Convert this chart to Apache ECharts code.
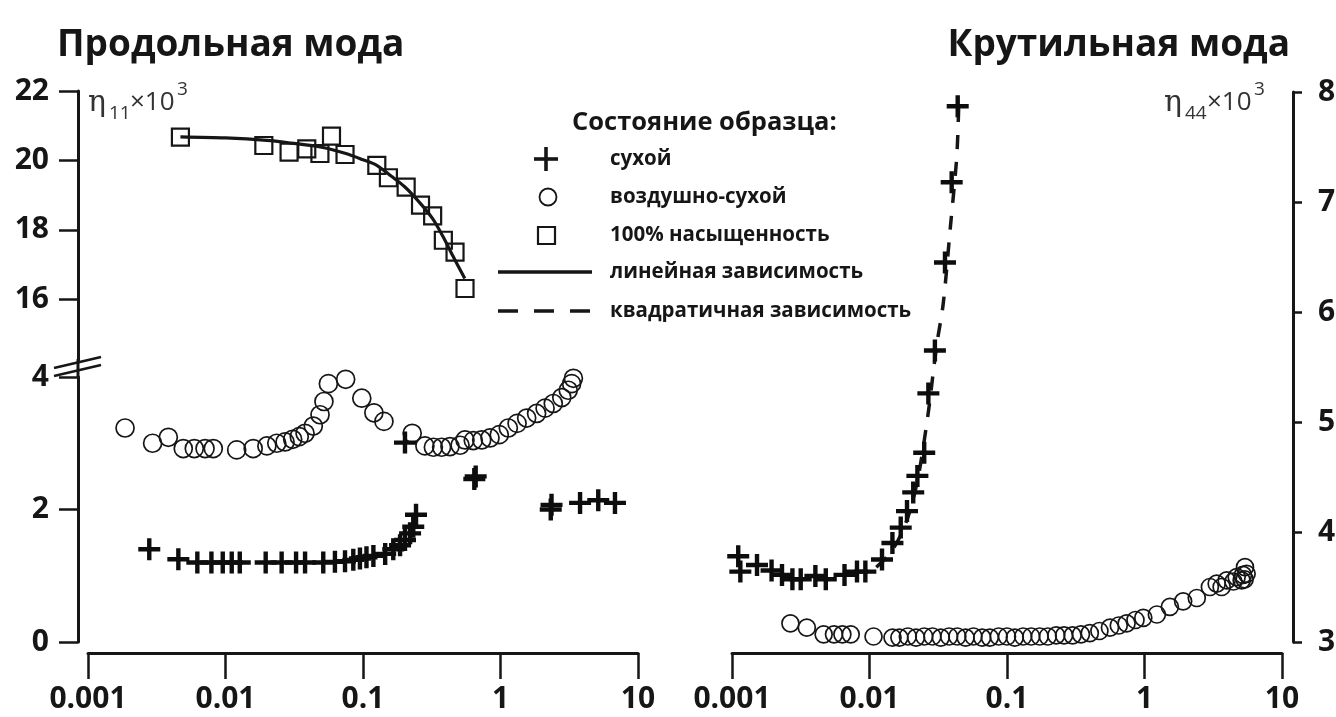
<!DOCTYPE html>
<html>
<head>
<meta charset="utf-8">
<script src="https://cdn.jsdelivr.net/npm/echarts@6/dist/echarts.min.js"></script>
<style>
html,body{margin:0;padding:0;background:#fff;}
#chart{width:1336px;height:717px;}
</style>
</head>
<body>
<div id="chart"></div>
<script>
// ---------- data ----------
const xTickValues = [0.001, 0.01, 0.1, 1, 10];
const xTickLabels = ['0.001', '0.01', '0.1', '1', '10'];
const longUpperTicks = [16, 18, 20, 22];
const longLowerTicks = [0, 2, 4];
const torsTicks = [3, 4, 5, 6, 7, 8];

const titles = ['Продольная мода', 'Крутильная мода'];
const legendTitle = 'Состояние образца:';
const seriesNames = ['сухой', 'воздушно-сухой', '100% насыщенность', 'линейная зависимость', 'квадратичная зависимость'];

// Longitudinal mode, 100% saturation (squares)
const longSatX = [0.0047, 0.019, 0.029, 0.039, 0.0486, 0.059, 0.074, 0.126, 0.153, 0.206, 0.262, 0.321, 0.384, 0.467, 0.552];
const longSatY = [20.67, 20.43, 20.24, 20.33, 20.20, 20.70, 20.17, 19.86, 19.50, 19.23, 18.71, 18.40, 17.70, 17.36, 16.31];
// Longitudinal mode, linear dependence (solid line)
const longLinX = [0.0047, 0.01, 0.02, 0.03, 0.05, 0.075, 0.1, 0.126, 0.16, 0.2, 0.25, 0.32, 0.38, 0.45, 0.55];
const longLinY = [20.68, 20.65, 20.58, 20.50, 20.38, 20.20, 20.02, 19.86, 19.55, 19.25, 18.85, 18.33, 17.82, 17.25, 16.60];
// Longitudinal mode, air-dry (circles)
const longAirX = [0.00186, 0.00295, 0.00384, 0.00493, 0.00593, 0.0071, 0.00815, 0.01206, 0.0159, 0.02, 0.0236, 0.0271, 0.0308, 0.0344, 0.0379, 0.0435, 0.0487, 0.052, 0.056, 0.0748, 0.098, 0.120, 0.142, 0.228, 0.282, 0.325, 0.373, 0.429, 0.508, 0.552, 0.634, 0.73, 0.839, 0.98, 1.14, 1.32, 1.55, 1.83, 2.11, 2.42, 2.79, 3.11, 3.29, 3.39];
const longAirY = [3.23, 3.00, 3.09, 2.92, 2.92, 2.92, 2.92, 2.90, 2.92, 2.96, 3.00, 3.02, 3.06, 3.10, 3.15, 3.26, 3.43, 3.63, 3.90, 3.965, 3.68, 3.46, 3.33, 3.15, 2.96, 2.94, 2.94, 2.95, 2.97, 3.05, 3.04, 3.05, 3.08, 3.13, 3.23, 3.30, 3.38, 3.45, 3.53, 3.60, 3.69, 3.80, 3.90, 3.98];
// Longitudinal mode, dry (crosses)
const longDryX = [0.00279, 0.00454, 0.00624, 0.0079, 0.00955, 0.0111, 0.0127, 0.0196, 0.0256, 0.0326, 0.0379, 0.0514, 0.0625, 0.074, 0.085, 0.095, 0.106, 0.119, 0.145, 0.166, 0.186, 0.202, 0.22, 0.232, 0.243, 0.202, 0.645, 0.66, 2.32, 2.35, 3.79, 5.14, 6.8];
const longDryY = [1.40, 1.25, 1.20, 1.20, 1.20, 1.20, 1.20, 1.20, 1.20, 1.20, 1.20, 1.20, 1.21, 1.22, 1.24, 1.26, 1.28, 1.30, 1.33, 1.40, 1.46, 1.54, 1.64, 1.74, 1.92, 3.01, 2.46, 2.50, 2.00, 2.07, 2.10, 2.14, 2.10];

// Torsional mode, dry (crosses)
const torsDryX = [0.00111, 0.00115, 0.00152, 0.00194, 0.00231, 0.00275, 0.00316, 0.00404, 0.00481, 0.00658, 0.00811, 0.00933, 0.01233, 0.01468, 0.01687, 0.01874, 0.0208, 0.0223, 0.025, 0.0268, 0.0299, 0.0354, 0.0396, 0.0438];
const torsDryY = [3.78, 3.64, 3.70, 3.65, 3.61, 3.57, 3.57, 3.60, 3.57, 3.61, 3.64, 3.64, 3.75, 3.90, 4.04, 4.19, 4.36, 4.51, 4.72, 5.26, 5.65, 6.45, 7.18, 7.87];
// Torsional mode, quadratic dependence (dashed line)
const torsQuadX = [0.0112, 0.014, 0.017, 0.02, 0.023, 0.0268, 0.029, 0.0309, 0.0344, 0.0386, 0.0431, 0.0445];
const torsQuadY = [3.68, 3.80, 3.98, 4.22, 4.55, 5.09, 5.44, 5.71, 6.08, 6.75, 7.41, 7.85];
// Torsional mode, air-dry (circles)
const torsAirX = [0.00266, 0.0035, 0.00464, 0.00552, 0.00635, 0.0073, 0.0107, 0.0147, 0.0165, 0.019, 0.0218, 0.025, 0.0287, 0.033, 0.0379, 0.0435, 0.05, 0.057, 0.066, 0.075, 0.087, 0.1, 0.114, 0.131, 0.15, 0.173, 0.198, 0.228, 0.26, 0.3, 0.345, 0.4, 0.47, 0.561, 0.65, 0.741, 0.86, 0.98, 1.23, 1.53, 1.91, 2.4, 2.99, 3.35, 3.64, 3.96, 4.43, 4.68, 5.09, 5.2, 5.35, 5.38, 5.53];
const torsAirY = [3.17, 3.13, 3.07, 3.07, 3.07, 3.07, 3.05, 3.04, 3.04, 3.05, 3.04, 3.05, 3.05, 3.04, 3.05, 3.05, 3.04, 3.05, 3.04, 3.04, 3.05, 3.05, 3.04, 3.05, 3.05, 3.05, 3.05, 3.06, 3.06, 3.06, 3.07, 3.08, 3.10, 3.13, 3.15, 3.17, 3.20, 3.22, 3.25, 3.32, 3.37, 3.40, 3.50, 3.53, 3.50, 3.56, 3.55, 3.59, 3.56, 3.61, 3.57, 3.68, 3.62];

// ---------- helpers ----------
const zip = (xs, ys) => xs.map((x, i) => [x, ys[i]]);
const INK = '#161616';
const FONT = '"Open Sans", "DejaVu Sans", sans-serif';
const crossPath = 'path://M12,0L12,24M0,12L24,12';

function xLabel(v) {
  const i = xTickValues.findIndex(t => Math.abs(Math.log10(t) - Math.log10(v)) < 1e-6);
  return i >= 0 ? xTickLabels[i] : '';
}

const axisLineStyle = { lineStyle: { color: INK, width: 3 } };
const tickLabel = { color: INK, fontFamily: FONT, fontWeight: 'bold', fontSize: 30 };

function logX(gridIndex, visible) {
  return {
    type: 'log', logBase: 10, gridIndex, min: 0.001, max: 10,
    show: visible, position: 'bottom', offset: 11,
    axisLine: { show: true, onZero: false, ...axisLineStyle },
    axisTick: { show: true, inside: false, length: 26, lineStyle: { color: INK, width: 2.5 } },
    axisLabel: { ...tickLabel, margin: 31, formatter: xLabel },
    splitLine: { show: false }, minorTick: { show: false }
  };
}

const chart = echarts.init(document.getElementById('chart'), null, { renderer: 'canvas' });

const gridBase = { containLabel: false, outerBoundsMode: 'none', show: false };

function txt(text, x, y, font, extra) {
  return { type: 'text', style: Object.assign({ text, x, y, textVerticalAlign: 'middle', font, fill: INK }, extra || {}) };
}
function seg(x1, y1, x2, y2, w, dash) {
  const st = { stroke: INK, lineWidth: w };
  if (dash) st.lineDash = dash;
  return { type: 'line', shape: { x1, y1, x2, y2 }, style: st };
}

const crossStyle = { color: 'rgba(0,0,0,0)', borderColor: '#0d0d0d', borderWidth: 4.4, opacity: 1 };
const hollowStyle = { color: 'rgba(255,255,255,0)', borderColor: INK, borderWidth: 1.7, opacity: 1 };
const squareStyle = { color: 'rgba(255,255,255,0)', borderColor: INK, borderWidth: 2.2, opacity: 1 };

const option = {
  animation: false,
  backgroundColor: '#fff',
  grid: [
    { ...gridBase, left: 88, top: 91, width: 550, height: 269 },
    { ...gridBase, left: 88, top: 377, width: 550, height: 265 },
    { ...gridBase, left: 732, top: 92, width: 550, height: 550 }
  ],
  xAxis: [logX(0, false), logX(1, true), logX(2, true)],
  yAxis: [
    {
      type: 'value', gridIndex: 0, min: 14.25, max: 22, position: 'left', offset: 10,
      axisLine: { show: true, onZero: false, ...axisLineStyle },
      axisTick: { show: true, length: 19, customValues: longUpperTicks, lineStyle: { color: INK, width: 2.5 } },
      axisLabel: { ...tickLabel, margin: 29, customValues: longUpperTicks },
      splitLine: { show: false }
    },
    {
      type: 'value', gridIndex: 1, min: 0, max: 4, interval: 2, position: 'left', offset: 10,
      axisLine: { show: true, onZero: false, ...axisLineStyle },
      axisTick: { show: true, length: 19, customValues: longLowerTicks, lineStyle: { color: INK, width: 2.5 } },
      axisLabel: { ...tickLabel, margin: 29, customValues: longLowerTicks },
      splitLine: { show: false }
    },
    {
      type: 'value', gridIndex: 2, min: 3, max: 8, interval: 1, position: 'right', offset: 11,
      axisLine: { show: true, onZero: false, ...axisLineStyle },
      axisTick: { show: true, length: 9, customValues: torsTicks, lineStyle: { color: INK, width: 2.5 } },
      axisLabel: { ...tickLabel, margin: 25, customValues: torsTicks },
      splitLine: { show: false }
    }
  ],
  series: [
    {
      name: seriesNames[3], type: 'line', xAxisIndex: 0, yAxisIndex: 0,
      data: zip(longLinX, longLinY), smooth: 0.3, showSymbol: false,
      lineStyle: { color: INK, width: 3.2 }, z: 2
    },
    {
      name: seriesNames[2], type: 'scatter', xAxisIndex: 0, yAxisIndex: 0,
      data: zip(longSatX, longSatY), symbol: 'rect', symbolSize: 17,
      itemStyle: squareStyle, z: 3
    },
    {
      name: seriesNames[1], type: 'scatter', xAxisIndex: 1, yAxisIndex: 1,
      data: zip(longAirX, longAirY), symbol: 'circle', symbolSize: 18,
      itemStyle: hollowStyle, z: 3
    },
    {
      name: seriesNames[0], type: 'scatter', xAxisIndex: 1, yAxisIndex: 1,
      data: zip(longDryX, longDryY), symbol: crossPath, symbolSize: 22,
      itemStyle: crossStyle, z: 3
    },
    {
      name: seriesNames[4], type: 'line', xAxisIndex: 2, yAxisIndex: 2,
      data: zip(torsQuadX, torsQuadY), smooth: 0.3, showSymbol: false,
      lineStyle: { color: INK, width: 3.5, type: [14, 13] }, z: 2
    },
    {
      name: seriesNames[0], type: 'scatter', xAxisIndex: 2, yAxisIndex: 2,
      data: zip(torsDryX, torsDryY), symbol: crossPath, symbolSize: 22,
      itemStyle: crossStyle, z: 3
    },
    {
      name: seriesNames[1], type: 'scatter', xAxisIndex: 2, yAxisIndex: 2,
      data: zip(torsAirX, torsAirY), symbol: 'circle', symbolSize: 17,
      itemStyle: hollowStyle, z: 3
    }
  ],
  graphic: [
    // titles
    txt(titles[0], 57, 45, 'bold 37px ' + FONT),
    txt(titles[1], 1290, 45, 'bold 37px ' + FONT, { textAlign: 'right' }),
    // y-axis continuation through break & break marks
    seg(78, 359, 78, 378, 3),
    seg(54, 368, 101, 357, 2.5),
    seg(54, 376, 101, 365, 2.5),
    // left axis name  η11×10^3
    txt('η', 88, 103, '30px "DejaVu Serif", serif', { fill: '#333' }),
    txt('11', 109, 114, '19px ' + FONT, { fill: '#333' }),
    txt('×10', 130, 103, '26px ' + FONT, { fill: '#333' }),
    txt('3', 177, 90, '19px ' + FONT, { fill: '#333' }),
    // right axis name  η44×10^3
    txt('η', 1164, 103, '30px "DejaVu Serif", serif', { fill: '#333' }),
    txt('44', 1185, 114, '19px ' + FONT, { fill: '#333' }),
    txt('×10', 1207, 103, '26px ' + FONT, { fill: '#333' }),
    txt('3', 1254, 90, '19px ' + FONT, { fill: '#333' }),
    // legend
    txt(legendTitle, 572, 123, 'bold 25.5px ' + FONT),
    seg(546, 147, 546, 171, 3.6),
    seg(534, 159, 558, 159, 3.6),
    { type: 'circle', shape: { cx: 548, cy: 197, r: 8.5 }, style: { stroke: INK, lineWidth: 1.8, fill: 'rgba(0,0,0,0)' } },
    { type: 'rect', shape: { x: 538, y: 227, width: 17, height: 17 }, style: { stroke: INK, lineWidth: 2.2, fill: 'rgba(0,0,0,0)' } },
    seg(498, 272, 592, 272, 3.5),
    seg(498, 311, 592, 311, 3.5, [20, 16]),
    txt(seriesNames[0], 610, 159, 'bold 20.5px ' + FONT),
    txt(seriesNames[1], 610, 197, 'bold 20.5px ' + FONT),
    txt(seriesNames[2], 610, 235, 'bold 20.5px ' + FONT),
    txt(seriesNames[3], 610, 272, 'bold 20.5px ' + FONT),
    txt(seriesNames[4], 610, 311, 'bold 20.5px ' + FONT)
  ]
};

chart.setOption(option);
</script>
</body>
</html>
